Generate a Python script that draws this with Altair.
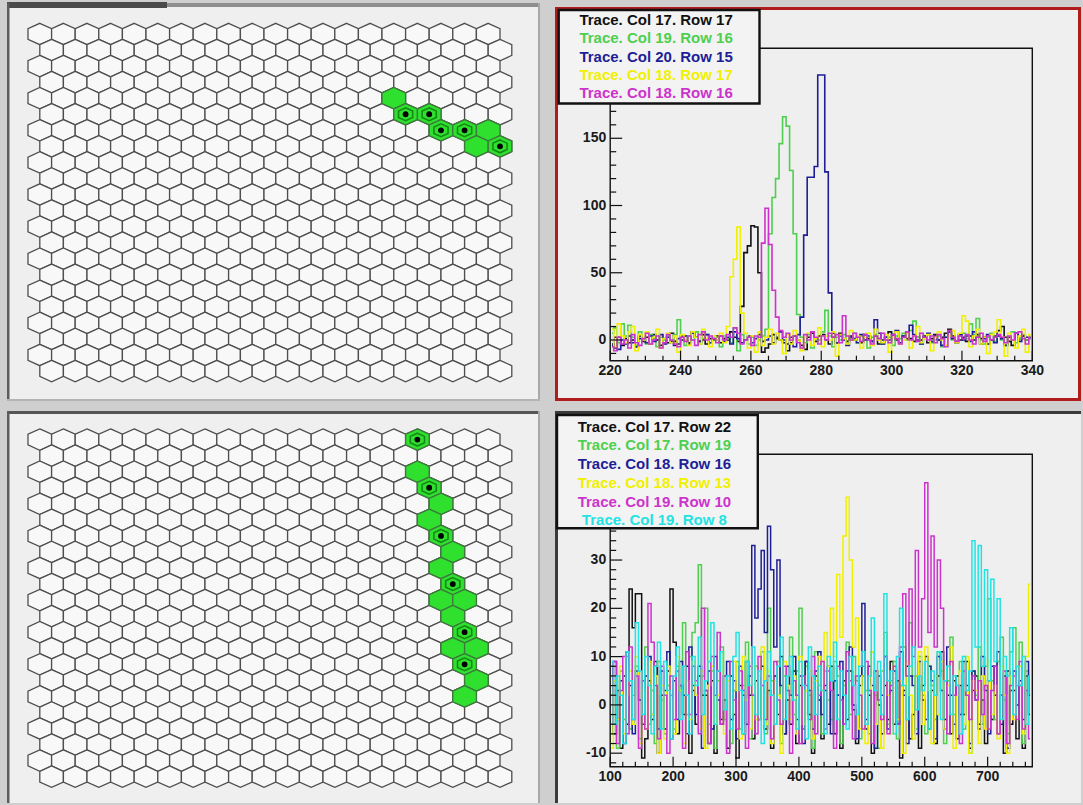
import altair as alt
import pandas as pd

# ---------------------------------------------------------------------------
# Canvas and pad geometry (pixels)
# ---------------------------------------------------------------------------
W, H = 1083, 805
BG = "#cfcfcf"
PAD_FILL = "#efefef"
FONT = "Liberation Sans"

# hexagonal detector map: 22 rows x 20 cells, odd rows shifted by half a cell
N_ROWS, N_COLS = 22, 20
HEX_X0, HEX_DX, HEX_DY = 39.8, 23.6, 16.05
HEX_Y0_TOP, HEX_Y0_BOT = 34.0, 439.6
HEX_PATH = "M0,-0.907L1,-0.453L1,0.453L0,0.907L-1,0.453L-1,-0.453Z"
HEX_SIZE = HEX_DX ** 2

# histogram frames
FR_L, FR_R = 610.2, 1032.3
FR_TOP_T, FR_TOP_B = 48.3, 360.7
FR_BOT_T, FR_BOT_B = 454.3, 766.7

# ---------------------------------------------------------------------------
# Hit cells (row, column, has-marker) for the two events
# ---------------------------------------------------------------------------
top_hit_rows = [4, 5, 5, 6, 6, 6, 7, 7]
top_hit_cols = [15, 15, 16, 17, 18, 19, 18, 19]
top_hit_mark = [0, 1, 1, 1, 1, 0, 0, 1]

bot_hit_rows = [0, 2, 3, 4, 5, 6, 7, 8, 9, 10, 10, 11, 12, 13, 13, 14, 15, 16]
bot_hit_cols = [16, 16, 16, 17, 16, 17, 17, 17, 17, 17, 18, 17, 18, 17, 18, 18, 18, 18]
bot_hit_mark = [1, 0, 1, 0, 0, 1, 0, 0, 1, 0, 0, 0, 1, 0, 0, 1, 0, 0]

# ---------------------------------------------------------------------------
# Traces, event 1: bins of width 1 from 220 to 340
# ---------------------------------------------------------------------------
top_labels = ["Trace. Col 17. Row 17", "Trace. Col 19. Row 16", "Trace. Col 20. Row 15",
              "Trace. Col 18. Row 17", "Trace. Col 18. Row 16"]
top_colors = ["#111111", "#4fcf4f", "#1e1e96", "#f0f000", "#cc33cc"]

top_black = [-3, -6, 2, -4, 1, -2, 0, -5, 3, -1,
             2, -3, 4, 0, -4, 1, -2, 5, -1, -3,
             0, 3, -2, 6, 2, -1, 4, -3, 1, 0,
             3, -2, 1, 0, 6, 2, -1, 25, 65, 70,
             85, 84, 50, -9, -6, -3, 4, 1, 0, -2,
             -8, -2, 3, 0, -4, -7, 2, 5, -1, 3,
             4, 0, -3, 2, -2, 5, 1, -1, 3, 0,
             2, -2, 4, 1, -1, 3, -3, 0, 2, 6,
             4, 0, -2, 3, 5, 1, -1, 2, 0, 3,
             -2, 1, 4, 0, 2, 5, 8, 3, -1, 0,
             2, -1, 3, 0, 4, 1, 2, -3, 0, 3,
             7, 10, 2, -1, -4, 5, 1, 3, 0, 2]
top_green = [5, 9, -2, 12, 3, 11, 2, -4, 6, 0,
             -3, 4, 1, -5, 2, 0, 3, -2, 4, 15,
             2, -4, 3, 0, 6, -3, 1, 4, -2, 0,
             2, -5, 3, 1, -2, 9, -8, 4, 0, -3,
             2, -4, 0, 3, 8, 79, 106, 120, 146, 166,
             159, 126, 79, 19, 2, -2, 4, -6, 1, 0,
             6, 22, 3, -5, 2, 0, 4, -3, 1, 5,
             -2, 3, 0, -6, 2, 4, 1, -3, 0, 2,
             -4, 3, 1, 5, 0, 7, 14, 2, -3, 1,
             4, -2, 0, 3, -5, 2, 6, 0, -2, 3,
             5, 1, 12, 4, 16, 0, -3, 2, 5, -1,
             3, 0, -4, 2, 6, -2, 1, 4, 0, 3]
top_blue = [-4, 2, -7, 0, -3, 3, -2, -5, 1, 0,
            -2, 3, -1, 0, 4, -3, 2, -1, -4, 1,
            3, 0, -3, 5, 2, -1, 0, 4, -2, 1,
            0, 3, -1, 2, -3, 6, 1, -2, 0, 3,
            -2, 1, 4, -1, 0, 3, -2, 2, 6, 0,
            -3, 2, -5, 4, 17, 78, 121, 121, 129, 197,
            197, 125, 35, 5, -2, 3, 0, -4, 2, 1,
            -2, 4, 0, 3, -1, 15, 5, -3, 2, 0,
            4, 7, -2, 3, 1, 11, 4, 0, -3, 2,
            5, -1, 3, 0, -4, 2, 6, 1, -2, 4,
            0, 3, -1, 6, 2, -3, 1, 4, 0, -2,
            3, 1, -4, 2, 0, 5, -1, 3, 2, 1]
top_yellow = [8, -5, 12, 3, -2, 6, 10, -8, 4, 0,
              6, -3, 2, 8, -6, 1, 5, -2, 3, -9,
              4, 0, -4, 6, 2, -3, 8, 1, -5, 3,
              0, 5, -2, 10, 47, 60, 84, 20, 5, -6,
              3, -9, 6, -4, 2, 8, -3, 5, 0, -10,
              4, -3, 7, 0, -8, 2, 5, -4, 1, 9,
              -5, 3, 0, 6, -12, 4, 1, -3, 7, 0,
              3, -6, 2, 5, -4, 8, 0, -2, 4, -9,
              2, 6, -3, 0, 5, -6, 3, 10, -2, 1,
              4, -8, 2, 6, 0, -4, 3, 7, -2, 5,
              18, 14, -5, 3, 8, -3, 2, -10, 4, 6,
              15, 2, -12, 5, 0, -6, 3, 8, -9, 4]
top_magenta = [-5, -8, 2, -3, 0, -6, 4, -2, -4, 1,
               5, -3, 0, 3, -6, -2, 4, 0, -3, -5,
               2, -1, 3, 0, -4, 4, 6, 0, 3, 1,
               -2, 3, 0, 4, 2, 9, 5, -3, 0, 2,
               -4, 3, 2, 72, 98, 71, 37, 17, 7, 2,
               5, 0, 3, -2, -6, 4, 0, 6, 2, -3,
               3, 0, 5, 2, 4, -2, 18, 3, 0, 5,
               2, -1, 4, 0, -3, 3, 1, 5, 0, -2,
               4, 1, -3, 2, 6, 0, 3, -1, 5, 2,
               0, 3, -2, 4, 1, -5, 7, 2, -1, 3,
               1, 4, 0, -3, 2, 5, -1, 3, 0, 2,
               4, 2, -2, 3, 0, 5, 6, 1, -3, 2]

# ---------------------------------------------------------------------------
# Traces, event 2: bins of width 5 from 100 to 770
# ---------------------------------------------------------------------------
bot_labels = ["Trace. Col 17. Row 22", "Trace. Col 17. Row 19", "Trace. Col 18. Row 16",
              "Trace. Col 18. Row 13", "Trace. Col 19. Row 10", "Trace. Col 19. Row 8"]
bot_colors = ["#111111", "#4fcf4f", "#1e1e96", "#f0f000", "#cc33cc", "#22e3e3"]

bot_black = [8, -6, 3, -9, 6, -4, 24, 16, 23, 23,
             -11, -7, 5, -3, 9, -10, 2, -5, 7, 24,
             13, -6, 4, -2, 8, -10, 3, -4, 6, 2,
             2, -8, 5, -10, 7, -3, 1, -9, 6, -2,
             -11, 4, -6, 9, 2, -7, 5, -3, 8, -5,
             3, -9, 6, -2, 10, -6, 1, -4, 7, -8,
             4, -5, 9, -2, -10, 6, 1, -7, 3, -4,
             8, -6, 2, -9, 5, -3, 7, -1, -8, 4,
             6, -5, 2, -10, 7, 0, -6, 4, -3, 9,
             -4, 5, -11, 3, 8, -7, -2, 6, -9, 4,
             10, -5, 3, -8, 6, 11, -3, 2, -6, 5,
             -7, 4, -2, 9, -9, 3, 6, -4, 1, -8,
             5, -3, 8, -6, 2, -10, 7, -4, 3, -7,
             4, -9, 6, -2]
bot_green = [-6, 4, -9, 7, -3, 10, -5, 2, 8, -7,
             5, 12, -4, 3, -8, 9, 1, -6, 4, 2,
             -5, 8, 3, 17, -2, 10, 15, 17, 29, 6,
             20, -4, 7, -9, 5, 12, -3, 6, -8, 3,
             9, -5, 4, 13, -7, 2, 8, -3, 11, -6,
             20, 5, -4, 9, -8, 6, 3, 14, -2, 7,
             20, -5, 8, 2, -9, 11, 4, -6, 7, 1,
             -3, 9, 6, -8, 4, 13, -2, 10, 5, -7,
             8, 3, -6, 11, 2, -9, 7, 15, -4, 5,
             9, -7, 4, 12, -3, 17, 6, -5, 10, 2,
             -6, 8, 4, -3, 11, 7, -8, 5, 14, -2,
             6, 9, -5, 3, -10, 7, 2, 12, -4, 8,
             22, 5, -3, 9, 14, 1, -6, 11, 16, 4,
             13, -8, 7, 3]
bot_blue = [2, 9, -3, 5, -8, 11, 4, -6, 7, 1,
            -4, 6, 10, -2, 8, -5, 7, 3, 11, -7,
            5, -3, 9, 2, -6, 12, 4, -2, 8, -9,
            3, 7, -5, 10, 1, -4, 6, 9, -3, 5,
            -7, 8, 2, -4, 6, 33, 18, 24, 32, 15,
            37, 28, 12, 30, 4, -6, 8, 2, 10, -3,
            6, -8, 9, 3, -5, 7, 11, -2, 4, 8,
            -6, 5, 2, 9, -4, 7, 12, 0, -7, 6,
            21, -3, 8, 4, -9, 6, 2, 10, -5, 3,
            7, -4, 11, 2, -8, 6, 4, -6, 9, 1,
            -3, 8, 5, -7, 10, 3, -5, 12, 2, -4,
            6, -2, 9, 4, -8, 7, 1, -5, 10, 3,
            -6, 8, 2, 11, -4, 6, -9, 3, 7, 0,
            5, -3, 9, 2]
bot_yellow = [-9, 5, -3, 8, -6, 2, 7, -4, 10, -8,
              3, -5, 9, -2, 6, -10, 4, -7, 8, 1,
              -6, 10, 3, -8, 5, -3, 9, 2, -5, 7,
              -9, 4, 8, -4, 2, 11, -6, 5, -2, 9,
              3, -7, 10, 1, -5, 8, -3, 6, 12, -4,
              7, -8, 5, 2, -10, 9, 4, -3, 6, -6,
              10, -4, 3, 7, -7, 5, 10, 3, 15, 8,
              20, 10, 27, 14, 35, 43, 30, 12, 18, -5,
              6, -8, 3, 11, -4, 7, -9, 5, 2, -6,
              8, -3, 5, -10, 9, 2, -7, 6, 11, -4,
              12, 3, -8, 6, -2, 9, -5, 4, 12, -9,
              2, 7, -4, 10, -10, 5, 3, -8, 6, -5,
              9, -2, 4, -7, 8, 2, -10, 6, -3, 5,
              8, -6, 10, 25]
bot_magenta = [-4, 9, -8, 3, 10, -6, 12, -3, 6, -9,
               5, -5, 21, 13, 4, -7, 8, 2, -10, 6,
               -3, 7, 4, -9, 11, -2, 8, 5, -6, 20,
               3, -8, 10, 2, 15, -4, 6, -10, 9, 1,
               -5, 7, 3, -9, 8, 2, -6, 10, 4, -3,
               6, -7, 9, 1, -4, 8, 3, -10, 5, 2,
               -8, 6, 4, -3, 10, -6, 2, 9, -5, 7,
               3, -9, 8, 1, -4, 11, 5, -7, 6, 2,
               -5, 9, 3, -8, 7, 1, -3, 10, -6, 4,
               8, -4, 12, 23, 6, 24, 10, 32, 12, 22,
               46, 15, 35, 12, 30, 20, 5, -6, 9, 2,
               4, -8, 7, 2, -3, 6, 1, 5, -2, 4,
               -5, 3, 8, -6, 2, 7, -8, 4, 6, -3,
               9, -5, 3, -7]
bot_cyan = [9, -4, 6, 2, -8, 11, 5, -3, 17, 7,
            -2, 10, 4, -6, 8, 13, -5, 9, 3, -7,
            6, 12, -3, 8, 2, -6, 10, 4, 14, -2,
            5, 9, 17, -4, 7, 11, -1, 6, -5, 10,
            15, 3, -6, 9, 4, 12, -2, 7, -8, 5,
            11, 2, -4, 8, 14, -3, 6, 10, 1, -5,
            9, 4, -7, 12, 6, -2, 8, 3, -6, 10,
            5, 13, -3, 7, 2, -5, 10, 4, -2, 8,
            11, -4, 6, 18, 3, 9, -2, 23, 5, 7,
            -6, 10, 20, 4, -3, 8, 12, -1, 6, 3,
            9, -5, 7, 2, 11, -3, 5, 8, -2, 6,
            4, -6, 10, 3, 7, 34, 12, 33, 8, 28,
            5, 26, 9, 22, -3, 10, 6, 16, -2, 8,
            4, 10, -4, 6]

# axis ticks and the tick labels left visible beside the legend boxes
top_x_major = [220, 240, 260, 280, 300, 320, 340]
top_y_major = [0, 50, 100, 150, 200]
top_y_labels = [0, 50, 100, 150]
bot_x_major = [100, 200, 300, 400, 500, 600, 700]
bot_y_major = [-10, 0, 10, 20, 30, 40, 50]
bot_y_labels = [-10, 0, 10, 20, 30]

ONE = pd.DataFrame({"k": [0]})


def box(x1, x2, y1, y2, **style):
    """Plain rectangle in canvas pixels (pads, frames, legend boxes)."""
    return alt.Chart(ONE).mark_rect(**style).encode(
        x=alt.value(x1), x2=alt.value(x2), y=alt.value(y1), y2=alt.value(y2))


# ---------------------------------------------------------------------------
# Pads
# ---------------------------------------------------------------------------
decor = [
    box(7, 540, 3, 401, fill=PAD_FILL),
    box(555, 1081, 7, 401, fill=PAD_FILL),
    box(7, 540, 411, 803, fill=PAD_FILL),
    box(555, 1081, 411, 803, fill=PAD_FILL),
    # bevel edges
    box(7, 540, 3, 7, fill="#8e8e8e"),
    box(7, 167, 2, 8, fill="#4a4a4a"),
    box(7, 9.5, 3, 401, fill="#5c5c5c"),
    box(538, 540, 3, 401, fill="#a8a8a8"),
    box(7, 540, 399, 401, fill="#b4b4b4"),
    box(7, 540, 411, 414, fill="#555555"),
    box(7, 9.5, 411, 803, fill="#5c5c5c"),
    box(538, 540, 411, 803, fill="#a8a8a8"),
    box(555, 1081, 411, 414, fill="#3a3a3a"),
    box(555, 558, 411, 803, fill="#3a3a3a"),
    # active pad
    box(556.5, 1079.5, 8.5, 399.5, fill=PAD_FILL, fillOpacity=0,
        stroke="#b01c1c", strokeWidth=3),
]


# ---------------------------------------------------------------------------
# Hexagon maps
# ---------------------------------------------------------------------------
cells = pd.DataFrame([{"cx": c + 0.5 * (r % 2), "cy": r}
                      for r in range(N_ROWS) for c in range(N_COLS)])


def hex_panel(rows, cols, marks, y0):
    hits = pd.DataFrame({"cx": [c + 0.5 * (r % 2) for r, c in zip(rows, cols)],
                         "cy": rows, "mark": marks})
    marked = hits[hits["mark"] == 1]
    xs = alt.Scale(domain=[0, N_COLS - 0.5], range=[HEX_X0, HEX_X0 + (N_COLS - 0.5) * HEX_DX])
    ys = alt.Scale(domain=[0, N_ROWS - 1], range=[y0, y0 + (N_ROWS - 1) * HEX_DY])
    enc = dict(x=alt.X("cx:Q", scale=xs, axis=None), y=alt.Y("cy:Q", scale=ys, axis=None))
    grid = alt.Chart(cells).mark_point(
        shape=HEX_PATH, size=HEX_SIZE, filled=True, fill="#f8f8f8",
        stroke="#4e4e4e", strokeWidth=1.3, opacity=1).encode(**enc)
    green = alt.Chart(hits).mark_point(
        shape=HEX_PATH, size=HEX_SIZE, filled=True, fill="#2fe02f",
        stroke="#3c7a3c", strokeWidth=1.3, opacity=1).encode(**enc)
    ring = alt.Chart(marked).mark_point(
        shape=HEX_PATH, size=HEX_SIZE * 0.36, filled=True, fill="#2fe02f",
        stroke="#148a14", strokeWidth=1.6, opacity=1).encode(**enc)
    dot = alt.Chart(marked).mark_point(
        shape="circle", size=34, filled=True, fill="#000000", opacity=1).encode(**enc)
    return alt.layer(grid, green, ring, dot)


# ---------------------------------------------------------------------------
# Histogram pads
# ---------------------------------------------------------------------------
def hist_panel(series, colors, lo, binw, xdom, ydom, top, bottom,
               x_major, x_minor, y_major, y_labels, y_minor, lw):
    xs = alt.Scale(domain=xdom, range=[FR_L, FR_R])
    ys = alt.Scale(domain=ydom, range=[bottom, top])
    layers = [box(FR_L, FR_R, top, bottom, fill=PAD_FILL, fillOpacity=0,
                  stroke="#111111", strokeWidth=1.4)]
    for vals, col in zip(series, colors):
        df = pd.DataFrame({"x": [lo + (i + 0.5) * binw for i in range(len(vals))], "v": vals})
        layers.append(alt.Chart(df).mark_line(
            interpolate="step", color=col, strokeWidth=lw).encode(
            x=alt.X("x:Q", scale=xs, axis=None), y=alt.Y("v:Q", scale=ys, axis=None)))
    tick = dict(color="#111111", strokeWidth=1.2)
    xmaj = pd.DataFrame({"t": x_major, "lab": [str(t) for t in x_major]})
    ylab = pd.DataFrame({"t": y_labels, "lab": [str(t) for t in y_labels]})
    layers += [
        alt.Chart(pd.DataFrame({"t": x_minor})).mark_rule(**tick).encode(
            x=alt.X("t:Q", scale=xs, axis=None), y=alt.value(bottom), y2=alt.value(bottom - 5)),
        alt.Chart(xmaj).mark_rule(**tick).encode(
            x=alt.X("t:Q", scale=xs, axis=None), y=alt.value(bottom), y2=alt.value(bottom - 10)),
        alt.Chart(pd.DataFrame({"t": y_minor})).mark_rule(**tick).encode(
            y=alt.Y("t:Q", scale=ys, axis=None), x=alt.value(FR_L), x2=alt.value(FR_L + 6)),
        alt.Chart(pd.DataFrame({"t": y_major})).mark_rule(**tick).encode(
            y=alt.Y("t:Q", scale=ys, axis=None), x=alt.value(FR_L), x2=alt.value(FR_L + 12)),
        alt.Chart(xmaj).mark_text(font=FONT, fontSize=14, fontWeight="bold", color="#1a1a1a",
                                  align="center", baseline="middle").encode(
            x=alt.X("t:Q", scale=xs, axis=None), y=alt.value(bottom + 10), text="lab:N"),
        alt.Chart(ylab).mark_text(font=FONT, fontSize=14, fontWeight="bold", color="#1a1a1a",
                                  align="right", baseline="middle").encode(
            y=alt.Y("t:Q", scale=ys, axis=None), x=alt.value(FR_L - 4), text="lab:N"),
    ]
    return alt.layer(*layers)


def legend(labels, colors, x1, x2, y1, y2, first, step):
    df = pd.DataFrame({"k": list(range(len(labels))), "lab": labels, "col": colors})
    ys = alt.Scale(domain=[0, len(labels) - 1],
                   range=[first, first + step * (len(labels) - 1)])
    frame = box(x1, x2, y1, y2, fill="#f3f3f3", stroke="#111111", strokeWidth=2.4)
    text = alt.Chart(df).mark_text(font=FONT, fontSize=15, fontWeight="bold",
                                   align="center", baseline="middle").encode(
        x=alt.value((x1 + x2) / 2 - 3),
        y=alt.Y("k:Q", scale=ys, axis=None),
        color=alt.Color("col:N", scale=None, legend=None),
        text="lab:N")
    return alt.layer(frame, text)


top_hist = hist_panel(
    [top_black, top_green, top_blue, top_yellow, top_magenta], top_colors,
    220, 1, [220, 340], [-15.4, 216.9], FR_TOP_T, FR_TOP_B,
    top_x_major, [v for v in range(220, 341, 5) if v % 20],
    top_y_major, top_y_labels, [v for v in range(-10, 211, 10) if v % 50], 1.6)

bot_hist = hist_panel(
    [bot_black, bot_green, bot_blue, bot_yellow, bot_magenta, bot_cyan], bot_colors,
    100, 5, [100, 771], [-12.8, 51.9], FR_BOT_T, FR_BOT_B,
    bot_x_major, [v for v in range(100, 771, 20) if v % 100],
    bot_y_major, bot_y_labels, [v for v in range(-12, 52, 2) if v % 10], 1.5)

chart = alt.layer(
    *decor,
    hex_panel(top_hit_rows, top_hit_cols, top_hit_mark, HEX_Y0_TOP),
    top_hist,
    legend(top_labels, top_colors, 558.7, 759.5, 10, 103.5, 20, 18.35),
    hex_panel(bot_hit_rows, bot_hit_cols, bot_hit_mark, HEX_Y0_BOT),
    bot_hist,
    legend(bot_labels, bot_colors, 557, 757.8, 415, 528.3, 426.7, 18.7),
).resolve_scale(
    x="independent", y="independent", color="independent"
).properties(
    width=W, height=H, padding=0, background=BG,
    autosize=alt.AutoSizeParams(type="none"),
).configure_view(strokeWidth=0)

chart.save("out.html", embed_options={"renderer": "svg", "actions": False})
